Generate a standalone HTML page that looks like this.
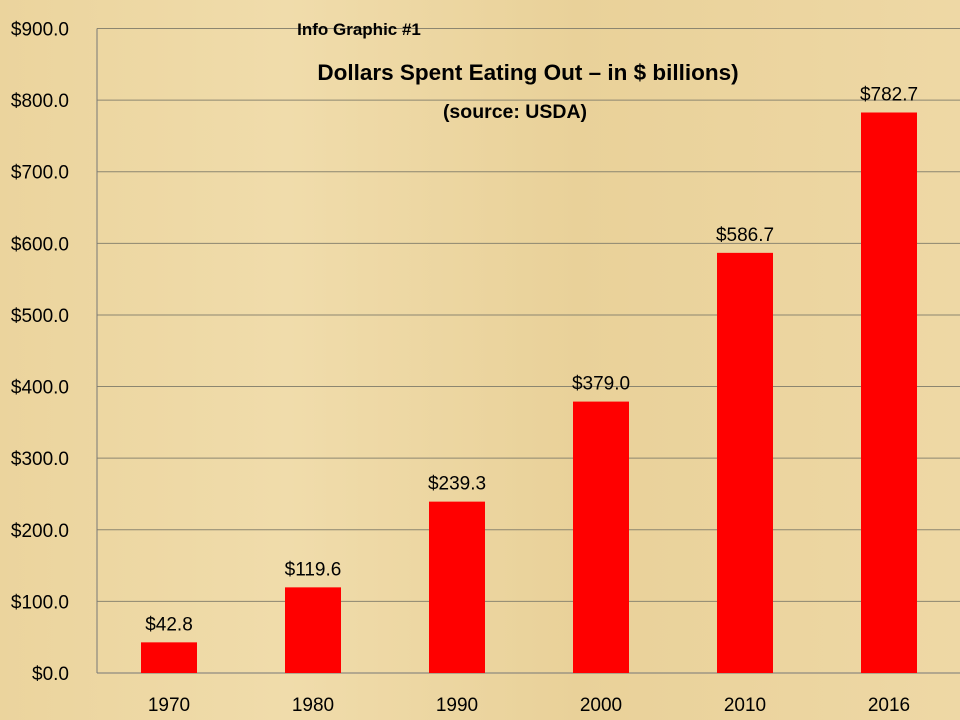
<!DOCTYPE html>
<html><head><meta charset="utf-8"><style>
body{margin:0;width:960px;height:720px;overflow:hidden;background:#ecd6a2;font-family:"Liberation Sans",sans-serif}
svg{display:block}
</style></head><body>
<svg id="chart" width="960" height="720">
<defs>
<linearGradient id="bg" x1="0" x2="1" y1="0" y2="0">
<stop offset="0" stop-color="#ebd49d"/><stop offset="0.3" stop-color="#f0dcab"/><stop offset="0.6" stop-color="#e9d199"/><stop offset="1" stop-color="#eed8a5"/>
</linearGradient>
</defs>
<rect width="960" height="720" fill="url(#bg)"/>
<g id="grid"></g><g id="bars"></g><g id="labels"></g>
<text x="359" y="35" font-size="17" font-weight="bold" text-anchor="middle">Info Graphic #1</text>
<text x="528" y="80" font-size="22.5" font-weight="bold" text-anchor="middle">Dollars Spent Eating Out – in $ billions)</text>
<text x="515" y="118" font-size="19.5" font-weight="bold" text-anchor="middle">(source: USDA)</text>
</svg>
<script>
const categories=["1970","1980","1990","2000","2010","2016"];
const values=[42.8,119.6,239.3,379.0,586.7,782.7];
const valueLabels=["$42.8","$119.6","$239.3","$379.0","$586.7","$782.7"];
const ticks=[0,100,200,300,400,500,600,700,800,900];
const NS="http://www.w3.org/2000/svg";
const x0=97,band=144,y0=673,y900=28.5;
const y=v=>y0-(v/900)*(y0-y900);
const cx=i=>x0+band*(i+0.5);
function mk(t,a,p,txt){const e=document.createElementNS(NS,t);for(const k in a)e.setAttribute(k,a[k]);if(txt!=null)e.textContent=txt;p.appendChild(e);return e;}
const g=document.getElementById('grid'),b=document.getElementById('bars'),l=document.getElementById('labels');
ticks.forEach(t=>{
 const ln=mk('line',{x1:x0,x2:960,y1:y(t),y2:y(t),stroke:t===0?'#777':'#8c8670','stroke-width':1},g);
 
 
 const tx=mk('text',{x:69,y:y(t)+7,'font-size':19,'text-anchor':'end',fill:'#000'},l,'$'+t.toFixed(1));
 
 
});
const ax=mk('line',{x1:x0,x2:x0,y1:y900,y2:y0,stroke:'#777','stroke-width':1},g);


values.forEach((v,i)=>{
 const r=mk('rect',{x:cx(i)-28,y:y(v),width:56,height:y0-y(v),fill:'#ff0000'},b);
 
 
 const vl=mk('text',{x:cx(i),y:y(v)-12,'font-size':19,'text-anchor':'middle'},l,valueLabels[i]);
 
 
 const cl=mk('text',{x:cx(i),y:711,'font-size':19,'text-anchor':'middle'},l,categories[i]);
 
 
});
</script>
</body></html>
